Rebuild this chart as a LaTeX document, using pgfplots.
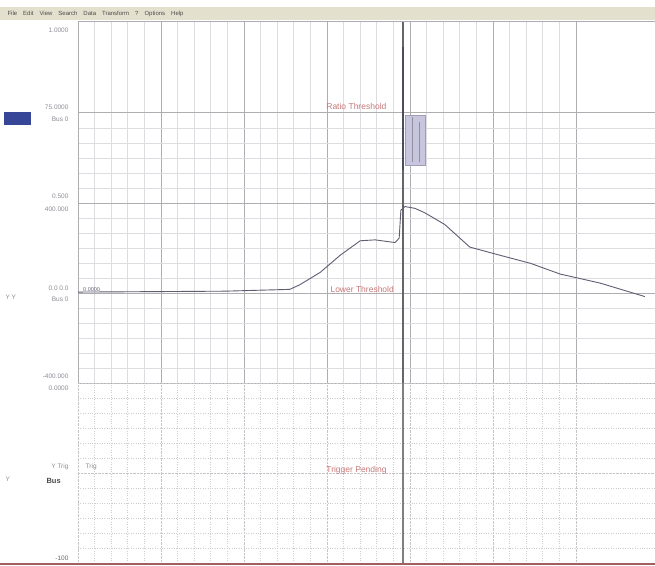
\documentclass[border=0pt]{standalone}
\usepackage{fontspec}
\setmainfont{Liberation Sans}
\usepackage{pgfplots}
\pgfplotsset{compat=1.18}
\definecolor{majgrid}{RGB}{175,172,178}
\definecolor{mingrid}{RGB}{222,220,224}
\definecolor{curve}{RGB}{95,95,115}
\definecolor{menubar}{RGB}{228,224,206}
\definecolor{redtxt}{RGB}{200,120,120}
\definecolor{lbl}{RGB}{140,140,150}
\definecolor{bluebox}{RGB}{55,70,150}
\definecolor{lav}{RGB}{200,198,222}
\begin{document}
\begin{tikzpicture}[x=1pt,y=1pt,font=\fontsize{6.5}{7.5}\selectfont]
\useasboundingbox (0pt,0pt) rectangle (655pt,-565pt);
\fill[white] (0pt,0pt) rectangle (655pt,-565pt);
% menu bar
\fill[menubar] (0pt,-7pt) rectangle (655pt,-20pt);
\node[anchor=west,text=black!70,font=\fontsize{6}{7}\selectfont] at (4pt,-13.5pt)
  {File\quad Edit\quad View\quad Search\quad Data\quad Transform\quad ?\quad Options\quad Help};
% upper panel
\begin{axis}[at={(78pt,-383pt)},anchor=south west,scale only axis,
  width=577pt,height=361pt,
  xmin=0,xmax=6.952,ymin=0,ymax=4.01,
  xtick={0,1,2,3,4,5,6},ytick={0,1,2,3},
  minor x tick num=4,minor y tick num=5,
  xticklabels={},yticklabels={},
  major tick length=0pt,minor tick length=0pt,
  grid=both,
  major grid style={majgrid,line width=0.9pt},
  minor grid style={mingrid,line width=0.6pt},
  axis line style={majgrid,line width=1pt},
  clip=false]
\addplot[fill=lav,draw=lav!80!black,line width=0.4pt] coordinates {
  (3.94,2.42) (3.94,2.98) (4.18,2.98) (4.18,2.42)} -- cycle;
\addplot[curve!70,line width=1pt,mark=none] coordinates {(4.03,2.45) (4.03,2.95)};
\addplot[curve!70,line width=1pt,mark=none] coordinates {(4.11,2.45) (4.11,2.90)};
\addplot[black!60,line width=1.3pt,mark=none] coordinates {(3.915,0) (3.915,4.01)};
\addplot[curve!80!black,line width=1.8pt,mark=none] coordinates {(3.92,2.37) (3.92,3.73)};
\addplot[curve,line width=0.9pt,mark=none] coordinates {
  (0,1.01) (1.77,1.02) (2.55,1.04) (2.67,1.09) (2.92,1.23) (3.16,1.42)
  (3.40,1.58) (3.58,1.59) (3.82,1.56) (3.87,1.61) (3.89,1.92) (3.94,1.96)
  (4.06,1.94) (4.18,1.89) (4.42,1.76) (4.72,1.51) (5.08,1.42) (5.45,1.33)
  (5.81,1.21) (6.29,1.11) (6.83,0.96)};
\node[redtxt,anchor=west,font=\fontsize{8.5}{9}\selectfont] at (axis cs:2.95,3.07) {Ratio Threshold};
\node[redtxt,anchor=west,font=\fontsize{8.5}{9}\selectfont] at (axis cs:3.0,1.04) {Lower Threshold};
\node[curve,anchor=west,font=\fontsize{5.5}{6}\selectfont] at (axis cs:0.02,1.04) {0.0000};
\end{axis}
% lower panel
\begin{axis}[at={(78pt,-563pt)},anchor=south west,scale only axis,
  width=577pt,height=180pt,
  xmin=0,xmax=6.952,ymin=-2,ymax=0,
  xtick={0,1,2,3,4,5,6},ytick={-2,-1,0},
  minor x tick num=4,minor y tick num=5,
  xticklabels={},yticklabels={},
  major tick length=0pt,minor tick length=0pt,
  grid=both,
  major grid style={majgrid!70,densely dotted,line width=0.8pt},
  minor grid style={majgrid!60,dotted,line width=0.7pt},
  axis line style={draw=none},
  clip=false]
\addplot[black!50,line width=1.3pt,mark=none] coordinates {(3.915,-2) (3.915,0)};
\node[redtxt,anchor=west,font=\fontsize{8.5}{9}\selectfont] at (axis cs:2.95,-0.97) {Trigger Pending};
\node[lbl,anchor=west] at (axis cs:0.05,-0.93) {Trig};
\end{axis}
% left labels
\begin{scope}[text=lbl]
\node[anchor=east] at (72pt,-30pt) {1.0000};
\node[anchor=east] at (72pt,-107pt) {75.0000};
\node[anchor=east] at (72pt,-119pt) {Bus 0};
\fill[bluebox] (4pt,-112pt) rectangle (31pt,-125pt);
\node[anchor=east] at (72pt,-196pt) {0.500};
\node[anchor=east] at (72pt,-209pt) {400.000};
\node[anchor=east] at (72pt,-288pt) {0.0 0.0};
\node[anchor=east] at (72pt,-299pt) {Bus 0};
\node[anchor=west] at (2pt,-297pt) {Y Y};
\node[anchor=east] at (72pt,-376pt) {-400.000};
\node[anchor=east] at (72pt,-388pt) {0.0000};
\node[anchor=east] at (72pt,-467pt) {Y Trig};
\node[anchor=west] at (2pt,-479pt) {Y};
\node[anchor=west,text=black!70,font=\fontsize{7.5}{8}\selectfont\bfseries] at (43pt,-481pt) {Bus};
\node[anchor=east,text=black!60] at (72pt,-558pt) {-100};
\end{scope}
\draw[redtxt!80!black,line width=1.5pt] (0pt,-564pt) -- (655pt,-564pt);
\end{tikzpicture}
\end{document}
